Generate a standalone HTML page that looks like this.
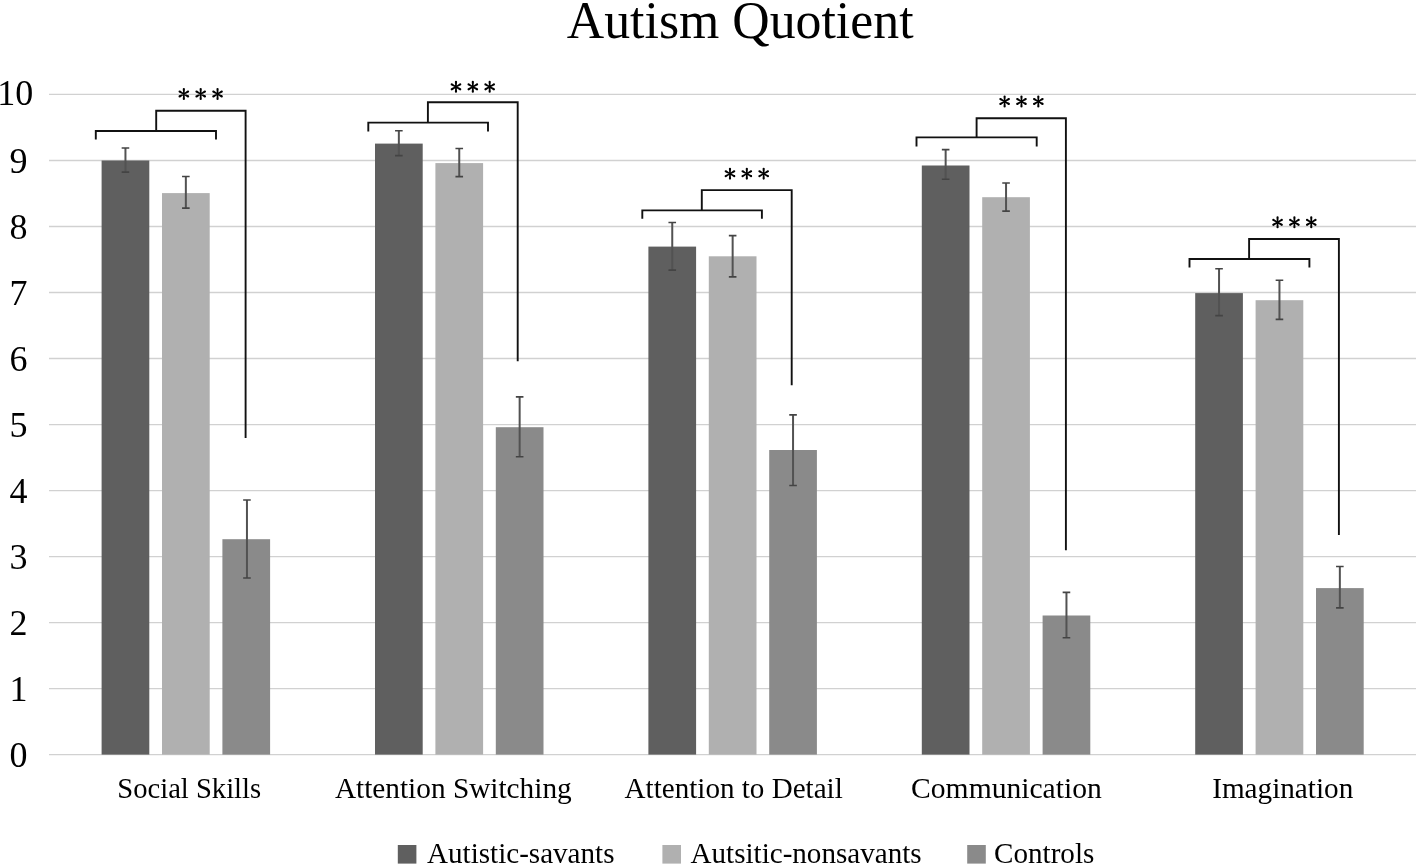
<!DOCTYPE html>
<html><head><meta charset="utf-8"><style>
html,body{margin:0;padding:0;background:#fff;width:1418px;height:866px;overflow:hidden;position:relative}
svg text{font-family:"Liberation Serif",serif}
svg{will-change:transform}
</style></head><body>
<svg width="1418" height="866" viewBox="0 0 1418 866" style="position:absolute;left:0;top:0">
<line x1="49" x2="1416" y1="754.60" y2="754.60" stroke="#d1d1d1" stroke-width="1.3"/>
<line x1="49" x2="1416" y1="688.59" y2="688.59" stroke="#d1d1d1" stroke-width="1.3"/>
<line x1="49" x2="1416" y1="622.57" y2="622.57" stroke="#d1d1d1" stroke-width="1.3"/>
<line x1="49" x2="1416" y1="556.56" y2="556.56" stroke="#d1d1d1" stroke-width="1.3"/>
<line x1="49" x2="1416" y1="490.55" y2="490.55" stroke="#d1d1d1" stroke-width="1.3"/>
<line x1="49" x2="1416" y1="424.53" y2="424.53" stroke="#d1d1d1" stroke-width="1.3"/>
<line x1="49" x2="1416" y1="358.52" y2="358.52" stroke="#d1d1d1" stroke-width="1.3"/>
<line x1="49" x2="1416" y1="292.51" y2="292.51" stroke="#d1d1d1" stroke-width="1.3"/>
<line x1="49" x2="1416" y1="226.50" y2="226.50" stroke="#d1d1d1" stroke-width="1.3"/>
<line x1="49" x2="1416" y1="160.48" y2="160.48" stroke="#d1d1d1" stroke-width="1.3"/>
<line x1="49" x2="1416" y1="94.47" y2="94.47" stroke="#d1d1d1" stroke-width="1.3"/>
<rect x="101.60" y="160.50" width="47.7" height="594.10" fill="#5f5f5f"/>
<rect x="162.00" y="193.10" width="47.7" height="561.50" fill="#b0b0b0"/>
<rect x="222.40" y="539.20" width="47.7" height="215.40" fill="#8a8a8a"/>
<rect x="375.00" y="143.60" width="47.7" height="611.00" fill="#5f5f5f"/>
<rect x="435.40" y="163.10" width="47.7" height="591.50" fill="#b0b0b0"/>
<rect x="495.80" y="427.20" width="47.7" height="327.40" fill="#8a8a8a"/>
<rect x="648.40" y="246.60" width="47.7" height="508.00" fill="#5f5f5f"/>
<rect x="708.80" y="256.30" width="47.7" height="498.30" fill="#b0b0b0"/>
<rect x="769.20" y="450.00" width="47.7" height="304.60" fill="#8a8a8a"/>
<rect x="921.80" y="165.50" width="47.7" height="589.10" fill="#5f5f5f"/>
<rect x="982.20" y="197.20" width="47.7" height="557.40" fill="#b0b0b0"/>
<rect x="1042.60" y="615.50" width="47.7" height="139.10" fill="#8a8a8a"/>
<rect x="1195.20" y="293.10" width="47.7" height="461.50" fill="#5f5f5f"/>
<rect x="1255.60" y="300.20" width="47.7" height="454.40" fill="#b0b0b0"/>
<rect x="1316.00" y="588.10" width="47.7" height="166.50" fill="#8a8a8a"/>
<path d="M125.45 148 V172.1" stroke="#525252" stroke-width="2" fill="none"/><path d="M121.65 148 H129.25 M121.65 172.1 H129.25" stroke="#444" stroke-width="1.6" fill="none"/>
<path d="M185.85 176.5 V208.1" stroke="#525252" stroke-width="2" fill="none"/><path d="M182.05 176.5 H189.65 M182.05 208.1 H189.65" stroke="#444" stroke-width="1.6" fill="none"/>
<path d="M246.95 500 V578" stroke="#525252" stroke-width="2" fill="none"/><path d="M243.15 500 H250.75 M243.15 578 H250.75" stroke="#444" stroke-width="1.6" fill="none"/>
<path d="M398.85 130.8 V155.6" stroke="#525252" stroke-width="2" fill="none"/><path d="M395.05 130.8 H402.65 M395.05 155.6 H402.65" stroke="#444" stroke-width="1.6" fill="none"/>
<path d="M459.25 148.5 V176.6" stroke="#525252" stroke-width="2" fill="none"/><path d="M455.45 148.5 H463.05 M455.45 176.6 H463.05" stroke="#444" stroke-width="1.6" fill="none"/>
<path d="M519.65 396.9 V456.8" stroke="#525252" stroke-width="2" fill="none"/><path d="M515.85 396.9 H523.45 M515.85 456.8 H523.45" stroke="#444" stroke-width="1.6" fill="none"/>
<path d="M672.25 222.5 V270.1" stroke="#525252" stroke-width="2" fill="none"/><path d="M668.45 222.5 H676.05 M668.45 270.1 H676.05" stroke="#444" stroke-width="1.6" fill="none"/>
<path d="M732.65 235.6 V276.9" stroke="#525252" stroke-width="2" fill="none"/><path d="M728.85 235.6 H736.45 M728.85 276.9 H736.45" stroke="#444" stroke-width="1.6" fill="none"/>
<path d="M793.05 414.9 V485.5" stroke="#525252" stroke-width="2" fill="none"/><path d="M789.25 414.9 H796.85 M789.25 485.5 H796.85" stroke="#444" stroke-width="1.6" fill="none"/>
<path d="M945.65 149.6 V179.3" stroke="#525252" stroke-width="2" fill="none"/><path d="M941.85 149.6 H949.45 M941.85 179.3 H949.45" stroke="#444" stroke-width="1.6" fill="none"/>
<path d="M1006.05 183 V211.1" stroke="#525252" stroke-width="2" fill="none"/><path d="M1002.25 183 H1009.85 M1002.25 211.1 H1009.85" stroke="#444" stroke-width="1.6" fill="none"/>
<path d="M1066.45 592.4 V637.7" stroke="#525252" stroke-width="2" fill="none"/><path d="M1062.65 592.4 H1070.25 M1062.65 637.7 H1070.25" stroke="#444" stroke-width="1.6" fill="none"/>
<path d="M1219.05 268.8 V315.6" stroke="#525252" stroke-width="2" fill="none"/><path d="M1215.25 268.8 H1222.85 M1215.25 315.6 H1222.85" stroke="#444" stroke-width="1.6" fill="none"/>
<path d="M1279.45 280.3 V319.4" stroke="#525252" stroke-width="2" fill="none"/><path d="M1275.65 280.3 H1283.25 M1275.65 319.4 H1283.25" stroke="#444" stroke-width="1.6" fill="none"/>
<path d="M1339.85 566.5 V607.9" stroke="#525252" stroke-width="2" fill="none"/><path d="M1336.05 566.5 H1343.65 M1336.05 607.9 H1343.65" stroke="#444" stroke-width="1.6" fill="none"/>
<path d="M95.8 139.6 V131 H216 V139.6 M156.2 131 V110.8 H245.6 V438" stroke="#111" stroke-width="1.9" fill="none"/>
<path d="M368.3 131.6 V122.6 H488 V131.6 M427.9 122.6 V102.3 H517.7 V361.2" stroke="#111" stroke-width="1.9" fill="none"/>
<path d="M642.3 218.8 V210.4 H761.9 V218.8 M701.8 210.4 V190.1 H791.7 V385.2" stroke="#111" stroke-width="1.9" fill="none"/>
<path d="M916.5 146.4 V137.4 H1036.7 V146.4 M976.6 137.4 V118.3 H1065.9 V550.3" stroke="#111" stroke-width="1.9" fill="none"/>
<path d="M1189.5 267.6 V259 H1309.4 V267.6 M1249.1 259 V239 H1338.9 V535.1" stroke="#111" stroke-width="1.9" fill="none"/>
<path d="M184.50 94.00 L184.95 89.10 L182.75 89.10 L183.20 94.00Z M182.75 89.10 a1.10 1.10 0 1 0 2.20 0 a1.10 1.10 0 1 0 -2.20 0Z M184.17 94.56 L188.64 92.50 L187.54 90.60 L183.53 93.44Z M186.99 91.55 a1.10 1.10 0 1 0 2.20 0 a1.10 1.10 0 1 0 -2.20 0Z M183.53 94.56 L187.54 97.40 L188.64 95.50 L184.17 93.44Z M186.99 96.45 a1.10 1.10 0 1 0 2.20 0 a1.10 1.10 0 1 0 -2.20 0Z M183.20 94.00 L182.75 98.90 L184.95 98.90 L184.50 94.00Z M182.75 98.90 a1.10 1.10 0 1 0 2.20 0 a1.10 1.10 0 1 0 -2.20 0Z M184.17 93.44 L180.16 90.60 L179.06 92.50 L183.53 94.56Z M178.51 91.55 a1.10 1.10 0 1 0 2.20 0 a1.10 1.10 0 1 0 -2.20 0Z M183.53 93.44 L179.06 95.50 L180.16 97.40 L184.17 94.56Z M178.51 96.45 a1.10 1.10 0 1 0 2.20 0 a1.10 1.10 0 1 0 -2.20 0Z" fill="#000"/>
<path d="M201.35 94.00 L201.80 89.10 L199.60 89.10 L200.05 94.00Z M199.60 89.10 a1.10 1.10 0 1 0 2.20 0 a1.10 1.10 0 1 0 -2.20 0Z M201.02 94.56 L205.49 92.50 L204.39 90.60 L200.38 93.44Z M203.84 91.55 a1.10 1.10 0 1 0 2.20 0 a1.10 1.10 0 1 0 -2.20 0Z M200.38 94.56 L204.39 97.40 L205.49 95.50 L201.02 93.44Z M203.84 96.45 a1.10 1.10 0 1 0 2.20 0 a1.10 1.10 0 1 0 -2.20 0Z M200.05 94.00 L199.60 98.90 L201.80 98.90 L201.35 94.00Z M199.60 98.90 a1.10 1.10 0 1 0 2.20 0 a1.10 1.10 0 1 0 -2.20 0Z M201.02 93.44 L197.01 90.60 L195.91 92.50 L200.38 94.56Z M195.36 91.55 a1.10 1.10 0 1 0 2.20 0 a1.10 1.10 0 1 0 -2.20 0Z M200.38 93.44 L195.91 95.50 L197.01 97.40 L201.02 94.56Z M195.36 96.45 a1.10 1.10 0 1 0 2.20 0 a1.10 1.10 0 1 0 -2.20 0Z" fill="#000"/>
<path d="M218.20 94.00 L218.65 89.10 L216.45 89.10 L216.90 94.00Z M216.45 89.10 a1.10 1.10 0 1 0 2.20 0 a1.10 1.10 0 1 0 -2.20 0Z M217.87 94.56 L222.34 92.50 L221.24 90.60 L217.22 93.44Z M220.69 91.55 a1.10 1.10 0 1 0 2.20 0 a1.10 1.10 0 1 0 -2.20 0Z M217.22 94.56 L221.24 97.40 L222.34 95.50 L217.87 93.44Z M220.69 96.45 a1.10 1.10 0 1 0 2.20 0 a1.10 1.10 0 1 0 -2.20 0Z M216.90 94.00 L216.45 98.90 L218.65 98.90 L218.20 94.00Z M216.45 98.90 a1.10 1.10 0 1 0 2.20 0 a1.10 1.10 0 1 0 -2.20 0Z M217.87 93.44 L213.86 90.60 L212.76 92.50 L217.22 94.56Z M212.21 91.55 a1.10 1.10 0 1 0 2.20 0 a1.10 1.10 0 1 0 -2.20 0Z M217.22 93.44 L212.76 95.50 L213.86 97.40 L217.87 94.56Z M212.21 96.45 a1.10 1.10 0 1 0 2.20 0 a1.10 1.10 0 1 0 -2.20 0Z" fill="#000"/>
<path d="M456.63 86.85 L457.08 81.95 L454.88 81.95 L455.33 86.85Z M454.88 81.95 a1.10 1.10 0 1 0 2.20 0 a1.10 1.10 0 1 0 -2.20 0Z M456.30 87.41 L460.77 85.35 L459.67 83.45 L455.65 86.29Z M459.12 84.40 a1.10 1.10 0 1 0 2.20 0 a1.10 1.10 0 1 0 -2.20 0Z M455.65 87.41 L459.67 90.25 L460.77 88.35 L456.30 86.29Z M459.12 89.30 a1.10 1.10 0 1 0 2.20 0 a1.10 1.10 0 1 0 -2.20 0Z M455.33 86.85 L454.88 91.75 L457.08 91.75 L456.63 86.85Z M454.88 91.75 a1.10 1.10 0 1 0 2.20 0 a1.10 1.10 0 1 0 -2.20 0Z M456.30 86.29 L452.29 83.45 L451.19 85.35 L455.65 87.41Z M450.64 84.40 a1.10 1.10 0 1 0 2.20 0 a1.10 1.10 0 1 0 -2.20 0Z M455.65 86.29 L451.19 88.35 L452.29 90.25 L456.30 87.41Z M450.64 89.30 a1.10 1.10 0 1 0 2.20 0 a1.10 1.10 0 1 0 -2.20 0Z" fill="#000"/>
<path d="M473.48 86.85 L473.93 81.95 L471.73 81.95 L472.18 86.85Z M471.73 81.95 a1.10 1.10 0 1 0 2.20 0 a1.10 1.10 0 1 0 -2.20 0Z M473.15 87.41 L477.62 85.35 L476.52 83.45 L472.50 86.29Z M475.97 84.40 a1.10 1.10 0 1 0 2.20 0 a1.10 1.10 0 1 0 -2.20 0Z M472.50 87.41 L476.52 90.25 L477.62 88.35 L473.15 86.29Z M475.97 89.30 a1.10 1.10 0 1 0 2.20 0 a1.10 1.10 0 1 0 -2.20 0Z M472.18 86.85 L471.73 91.75 L473.93 91.75 L473.48 86.85Z M471.73 91.75 a1.10 1.10 0 1 0 2.20 0 a1.10 1.10 0 1 0 -2.20 0Z M473.15 86.29 L469.14 83.45 L468.04 85.35 L472.50 87.41Z M467.49 84.40 a1.10 1.10 0 1 0 2.20 0 a1.10 1.10 0 1 0 -2.20 0Z M472.50 86.29 L468.04 88.35 L469.14 90.25 L473.15 87.41Z M467.49 89.30 a1.10 1.10 0 1 0 2.20 0 a1.10 1.10 0 1 0 -2.20 0Z" fill="#000"/>
<path d="M490.33 86.85 L490.78 81.95 L488.58 81.95 L489.03 86.85Z M488.58 81.95 a1.10 1.10 0 1 0 2.20 0 a1.10 1.10 0 1 0 -2.20 0Z M490.00 87.41 L494.47 85.35 L493.37 83.45 L489.36 86.29Z M492.82 84.40 a1.10 1.10 0 1 0 2.20 0 a1.10 1.10 0 1 0 -2.20 0Z M489.36 87.41 L493.37 90.25 L494.47 88.35 L490.00 86.29Z M492.82 89.30 a1.10 1.10 0 1 0 2.20 0 a1.10 1.10 0 1 0 -2.20 0Z M489.03 86.85 L488.58 91.75 L490.78 91.75 L490.33 86.85Z M488.58 91.75 a1.10 1.10 0 1 0 2.20 0 a1.10 1.10 0 1 0 -2.20 0Z M490.00 86.29 L485.99 83.45 L484.89 85.35 L489.36 87.41Z M484.34 84.40 a1.10 1.10 0 1 0 2.20 0 a1.10 1.10 0 1 0 -2.20 0Z M489.36 86.29 L484.89 88.35 L485.99 90.25 L490.00 87.41Z M484.34 89.30 a1.10 1.10 0 1 0 2.20 0 a1.10 1.10 0 1 0 -2.20 0Z" fill="#000"/>
<path d="M730.63 173.70 L731.08 168.80 L728.88 168.80 L729.33 173.70Z M728.88 168.80 a1.10 1.10 0 1 0 2.20 0 a1.10 1.10 0 1 0 -2.20 0Z M730.31 174.26 L734.77 172.20 L733.67 170.30 L729.65 173.14Z M733.12 171.25 a1.10 1.10 0 1 0 2.20 0 a1.10 1.10 0 1 0 -2.20 0Z M729.65 174.26 L733.67 177.10 L734.77 175.20 L730.31 173.14Z M733.12 176.15 a1.10 1.10 0 1 0 2.20 0 a1.10 1.10 0 1 0 -2.20 0Z M729.33 173.70 L728.88 178.60 L731.08 178.60 L730.63 173.70Z M728.88 178.60 a1.10 1.10 0 1 0 2.20 0 a1.10 1.10 0 1 0 -2.20 0Z M730.31 173.14 L726.29 170.30 L725.19 172.20 L729.65 174.26Z M724.64 171.25 a1.10 1.10 0 1 0 2.20 0 a1.10 1.10 0 1 0 -2.20 0Z M729.65 173.14 L725.19 175.20 L726.29 177.10 L730.31 174.26Z M724.64 176.15 a1.10 1.10 0 1 0 2.20 0 a1.10 1.10 0 1 0 -2.20 0Z" fill="#000"/>
<path d="M747.48 173.70 L747.93 168.80 L745.73 168.80 L746.18 173.70Z M745.73 168.80 a1.10 1.10 0 1 0 2.20 0 a1.10 1.10 0 1 0 -2.20 0Z M747.16 174.26 L751.62 172.20 L750.52 170.30 L746.50 173.14Z M749.97 171.25 a1.10 1.10 0 1 0 2.20 0 a1.10 1.10 0 1 0 -2.20 0Z M746.50 174.26 L750.52 177.10 L751.62 175.20 L747.16 173.14Z M749.97 176.15 a1.10 1.10 0 1 0 2.20 0 a1.10 1.10 0 1 0 -2.20 0Z M746.18 173.70 L745.73 178.60 L747.93 178.60 L747.48 173.70Z M745.73 178.60 a1.10 1.10 0 1 0 2.20 0 a1.10 1.10 0 1 0 -2.20 0Z M747.16 173.14 L743.14 170.30 L742.04 172.20 L746.50 174.26Z M741.49 171.25 a1.10 1.10 0 1 0 2.20 0 a1.10 1.10 0 1 0 -2.20 0Z M746.50 173.14 L742.04 175.20 L743.14 177.10 L747.16 174.26Z M741.49 176.15 a1.10 1.10 0 1 0 2.20 0 a1.10 1.10 0 1 0 -2.20 0Z" fill="#000"/>
<path d="M764.33 173.70 L764.78 168.80 L762.58 168.80 L763.03 173.70Z M762.58 168.80 a1.10 1.10 0 1 0 2.20 0 a1.10 1.10 0 1 0 -2.20 0Z M764.01 174.26 L768.47 172.20 L767.37 170.30 L763.36 173.14Z M766.82 171.25 a1.10 1.10 0 1 0 2.20 0 a1.10 1.10 0 1 0 -2.20 0Z M763.36 174.26 L767.37 177.10 L768.47 175.20 L764.01 173.14Z M766.82 176.15 a1.10 1.10 0 1 0 2.20 0 a1.10 1.10 0 1 0 -2.20 0Z M763.03 173.70 L762.58 178.60 L764.78 178.60 L764.33 173.70Z M762.58 178.60 a1.10 1.10 0 1 0 2.20 0 a1.10 1.10 0 1 0 -2.20 0Z M764.01 173.14 L759.99 170.30 L758.89 172.20 L763.36 174.26Z M758.34 171.25 a1.10 1.10 0 1 0 2.20 0 a1.10 1.10 0 1 0 -2.20 0Z M763.36 173.14 L758.89 175.20 L759.99 177.10 L764.01 174.26Z M758.34 176.15 a1.10 1.10 0 1 0 2.20 0 a1.10 1.10 0 1 0 -2.20 0Z" fill="#000"/>
<path d="M1005.27 101.50 L1005.72 96.60 L1003.52 96.60 L1003.97 101.50Z M1003.52 96.60 a1.10 1.10 0 1 0 2.20 0 a1.10 1.10 0 1 0 -2.20 0Z M1004.95 102.06 L1009.41 100.00 L1008.31 98.10 L1004.29 100.94Z M1007.76 99.05 a1.10 1.10 0 1 0 2.20 0 a1.10 1.10 0 1 0 -2.20 0Z M1004.29 102.06 L1008.31 104.90 L1009.41 103.00 L1004.95 100.94Z M1007.76 103.95 a1.10 1.10 0 1 0 2.20 0 a1.10 1.10 0 1 0 -2.20 0Z M1003.97 101.50 L1003.52 106.40 L1005.72 106.40 L1005.27 101.50Z M1003.52 106.40 a1.10 1.10 0 1 0 2.20 0 a1.10 1.10 0 1 0 -2.20 0Z M1004.95 100.94 L1000.93 98.10 L999.83 100.00 L1004.29 102.06Z M999.28 99.05 a1.10 1.10 0 1 0 2.20 0 a1.10 1.10 0 1 0 -2.20 0Z M1004.29 100.94 L999.83 103.00 L1000.93 104.90 L1004.95 102.06Z M999.28 103.95 a1.10 1.10 0 1 0 2.20 0 a1.10 1.10 0 1 0 -2.20 0Z" fill="#000"/>
<path d="M1022.12 101.50 L1022.57 96.60 L1020.37 96.60 L1020.82 101.50Z M1020.37 96.60 a1.10 1.10 0 1 0 2.20 0 a1.10 1.10 0 1 0 -2.20 0Z M1021.80 102.06 L1026.26 100.00 L1025.16 98.10 L1021.14 100.94Z M1024.61 99.05 a1.10 1.10 0 1 0 2.20 0 a1.10 1.10 0 1 0 -2.20 0Z M1021.14 102.06 L1025.16 104.90 L1026.26 103.00 L1021.80 100.94Z M1024.61 103.95 a1.10 1.10 0 1 0 2.20 0 a1.10 1.10 0 1 0 -2.20 0Z M1020.82 101.50 L1020.37 106.40 L1022.57 106.40 L1022.12 101.50Z M1020.37 106.40 a1.10 1.10 0 1 0 2.20 0 a1.10 1.10 0 1 0 -2.20 0Z M1021.80 100.94 L1017.78 98.10 L1016.68 100.00 L1021.14 102.06Z M1016.13 99.05 a1.10 1.10 0 1 0 2.20 0 a1.10 1.10 0 1 0 -2.20 0Z M1021.14 100.94 L1016.68 103.00 L1017.78 104.90 L1021.80 102.06Z M1016.13 103.95 a1.10 1.10 0 1 0 2.20 0 a1.10 1.10 0 1 0 -2.20 0Z" fill="#000"/>
<path d="M1038.97 101.50 L1039.42 96.60 L1037.22 96.60 L1037.67 101.50Z M1037.22 96.60 a1.10 1.10 0 1 0 2.20 0 a1.10 1.10 0 1 0 -2.20 0Z M1038.64 102.06 L1043.11 100.00 L1042.01 98.10 L1037.99 100.94Z M1041.46 99.05 a1.10 1.10 0 1 0 2.20 0 a1.10 1.10 0 1 0 -2.20 0Z M1037.99 102.06 L1042.01 104.90 L1043.11 103.00 L1038.64 100.94Z M1041.46 103.95 a1.10 1.10 0 1 0 2.20 0 a1.10 1.10 0 1 0 -2.20 0Z M1037.67 101.50 L1037.22 106.40 L1039.42 106.40 L1038.97 101.50Z M1037.22 106.40 a1.10 1.10 0 1 0 2.20 0 a1.10 1.10 0 1 0 -2.20 0Z M1038.64 100.94 L1034.63 98.10 L1033.53 100.00 L1037.99 102.06Z M1032.98 99.05 a1.10 1.10 0 1 0 2.20 0 a1.10 1.10 0 1 0 -2.20 0Z M1037.99 100.94 L1033.53 103.00 L1034.63 104.90 L1038.64 102.06Z M1032.98 103.95 a1.10 1.10 0 1 0 2.20 0 a1.10 1.10 0 1 0 -2.20 0Z" fill="#000"/>
<path d="M1278.21 222.35 L1278.66 217.45 L1276.46 217.45 L1276.91 222.35Z M1276.46 217.45 a1.10 1.10 0 1 0 2.20 0 a1.10 1.10 0 1 0 -2.20 0Z M1277.89 222.91 L1282.35 220.85 L1281.25 218.95 L1277.24 221.79Z M1280.70 219.90 a1.10 1.10 0 1 0 2.20 0 a1.10 1.10 0 1 0 -2.20 0Z M1277.24 222.91 L1281.25 225.75 L1282.35 223.85 L1277.89 221.79Z M1280.70 224.80 a1.10 1.10 0 1 0 2.20 0 a1.10 1.10 0 1 0 -2.20 0Z M1276.91 222.35 L1276.46 227.25 L1278.66 227.25 L1278.21 222.35Z M1276.46 227.25 a1.10 1.10 0 1 0 2.20 0 a1.10 1.10 0 1 0 -2.20 0Z M1277.89 221.79 L1273.87 218.95 L1272.77 220.85 L1277.24 222.91Z M1272.22 219.90 a1.10 1.10 0 1 0 2.20 0 a1.10 1.10 0 1 0 -2.20 0Z M1277.24 221.79 L1272.77 223.85 L1273.87 225.75 L1277.89 222.91Z M1272.22 224.80 a1.10 1.10 0 1 0 2.20 0 a1.10 1.10 0 1 0 -2.20 0Z" fill="#000"/>
<path d="M1295.06 222.35 L1295.51 217.45 L1293.31 217.45 L1293.76 222.35Z M1293.31 217.45 a1.10 1.10 0 1 0 2.20 0 a1.10 1.10 0 1 0 -2.20 0Z M1294.74 222.91 L1299.20 220.85 L1298.10 218.95 L1294.09 221.79Z M1297.55 219.90 a1.10 1.10 0 1 0 2.20 0 a1.10 1.10 0 1 0 -2.20 0Z M1294.09 222.91 L1298.10 225.75 L1299.20 223.85 L1294.74 221.79Z M1297.55 224.80 a1.10 1.10 0 1 0 2.20 0 a1.10 1.10 0 1 0 -2.20 0Z M1293.76 222.35 L1293.31 227.25 L1295.51 227.25 L1295.06 222.35Z M1293.31 227.25 a1.10 1.10 0 1 0 2.20 0 a1.10 1.10 0 1 0 -2.20 0Z M1294.74 221.79 L1290.72 218.95 L1289.62 220.85 L1294.09 222.91Z M1289.07 219.90 a1.10 1.10 0 1 0 2.20 0 a1.10 1.10 0 1 0 -2.20 0Z M1294.09 221.79 L1289.62 223.85 L1290.72 225.75 L1294.74 222.91Z M1289.07 224.80 a1.10 1.10 0 1 0 2.20 0 a1.10 1.10 0 1 0 -2.20 0Z" fill="#000"/>
<path d="M1311.91 222.35 L1312.36 217.45 L1310.16 217.45 L1310.61 222.35Z M1310.16 217.45 a1.10 1.10 0 1 0 2.20 0 a1.10 1.10 0 1 0 -2.20 0Z M1311.59 222.91 L1316.05 220.85 L1314.95 218.95 L1310.93 221.79Z M1314.40 219.90 a1.10 1.10 0 1 0 2.20 0 a1.10 1.10 0 1 0 -2.20 0Z M1310.93 222.91 L1314.95 225.75 L1316.05 223.85 L1311.59 221.79Z M1314.40 224.80 a1.10 1.10 0 1 0 2.20 0 a1.10 1.10 0 1 0 -2.20 0Z M1310.61 222.35 L1310.16 227.25 L1312.36 227.25 L1311.91 222.35Z M1310.16 227.25 a1.10 1.10 0 1 0 2.20 0 a1.10 1.10 0 1 0 -2.20 0Z M1311.59 221.79 L1307.57 218.95 L1306.47 220.85 L1310.93 222.91Z M1305.92 219.90 a1.10 1.10 0 1 0 2.20 0 a1.10 1.10 0 1 0 -2.20 0Z M1310.93 221.79 L1306.47 223.85 L1307.57 225.75 L1311.59 222.91Z M1305.92 224.80 a1.10 1.10 0 1 0 2.20 0 a1.10 1.10 0 1 0 -2.20 0Z" fill="#000"/>
<text x="27.6" y="767.20" text-anchor="end" font-family="Liberation Serif" font-size="36" fill="#000">0</text>
<text x="27.6" y="701.19" text-anchor="end" font-family="Liberation Serif" font-size="36" fill="#000">1</text>
<text x="27.6" y="635.17" text-anchor="end" font-family="Liberation Serif" font-size="36" fill="#000">2</text>
<text x="27.6" y="569.16" text-anchor="end" font-family="Liberation Serif" font-size="36" fill="#000">3</text>
<text x="27.6" y="503.15" text-anchor="end" font-family="Liberation Serif" font-size="36" fill="#000">4</text>
<text x="27.6" y="437.13" text-anchor="end" font-family="Liberation Serif" font-size="36" fill="#000">5</text>
<text x="27.6" y="371.12" text-anchor="end" font-family="Liberation Serif" font-size="36" fill="#000">6</text>
<text x="27.6" y="305.11" text-anchor="end" font-family="Liberation Serif" font-size="36" fill="#000">7</text>
<text x="27.6" y="239.10" text-anchor="end" font-family="Liberation Serif" font-size="36" fill="#000">8</text>
<text x="27.6" y="173.08" text-anchor="end" font-family="Liberation Serif" font-size="36" fill="#000">9</text>
<text x="-2.7" y="105.07" font-family="Liberation Serif" font-size="36" fill="#000">10</text>
<text x="117.34" y="797.6" font-family="Liberation Serif" font-size="28.6" fill="#000">Social Skills</text>
<text x="334.90" y="797.6" font-family="Liberation Serif" font-size="29.3" fill="#000">Attention Switching</text>
<text x="624.60" y="797.6" font-family="Liberation Serif" font-size="29.1" fill="#000">Attention to Detail</text>
<text x="911.09" y="797.6" font-family="Liberation Serif" font-size="29.6" fill="#000">Communication</text>
<text x="1212.20" y="797.6" font-family="Liberation Serif" font-size="29.2" fill="#000">Imagination</text>
<text x="566.8" y="37.8" font-family="Liberation Serif" font-size="51.8" fill="#000">Autism Quotient</text>
<rect x="397.8" y="845" width="18.6" height="18.6" fill="#5f5f5f"/>
<text x="427" y="862.6" font-family="Liberation Serif" font-size="29.1" fill="#000">Autistic-savants</text>
<rect x="662.4" y="845" width="18.6" height="18.6" fill="#b0b0b0"/>
<text x="690.5" y="862.6" font-family="Liberation Serif" font-size="29.1" fill="#000">Autsitic-nonsavants</text>
<rect x="967.2" y="845" width="18.6" height="18.6" fill="#8a8a8a"/>
<text x="994.1" y="862.6" font-family="Liberation Serif" font-size="29.1" fill="#000">Controls</text>
</svg>
</body></html>
